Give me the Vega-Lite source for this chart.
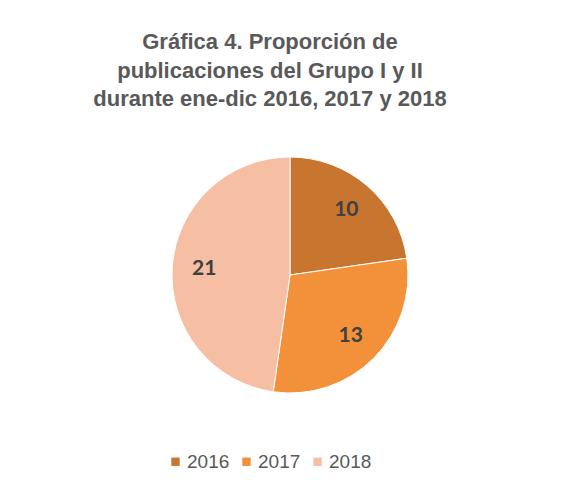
{
  "$schema": "https://vega.github.io/schema/vega-lite/v6.json",
  "autosize": "none",
  "width": 580,
  "height": 310,
  "padding": {"left": 0, "top": 120, "right": 0, "bottom": 56},
  "background": "white",
  "title": {
    "text": ["Gráfica 4. Proporción de", "publicaciones del Grupo I y II", "durante ene-dic 2016, 2017 y 2018"],
    "anchor": "middle",
    "dx": -20,
    "offset": -8,
    "baseline": "alphabetic",
    "font": "Liberation Sans",
    "fontSize": 22,
    "fontWeight": "bold",
    "color": "#595959",
    "lineHeight": 28.5
  },
  "data": {
    "values": [
      {"year": "2016", "value": 10},
      {"year": "2017", "value": 13},
      {"year": "2018", "value": 21}
    ]
  },
  "encoding": {
    "theta": {"field": "value", "type": "quantitative", "stack": true},
    "order": {"field": "year", "type": "ordinal"},
    "color": {
      "field": "year",
      "type": "nominal",
      "scale": {"domain": ["2016", "2017", "2018"], "range": ["#C8762F", "#F2913A", "#F6BEA2"]},
      "legend": {
        "title": null,
        "orient": "none",
        "direction": "horizontal",
        "legendX": 166,
        "legendY": 332,
        "symbolType": "square",
        "symbolSize": 70,
        "symbolStrokeWidth": 0,
        "labelFont": "Liberation Sans",
        "labelFontSize": 19,
        "labelColor": "#595959",
        "labelOffset": 2,
        "columnPadding": 7
      }
    }
  },
  "layer": [
    {
      "mark": {"type": "arc", "outerRadius": 118, "stroke": "white", "strokeWidth": 1}
    },
    {
      "mark": {"type": "text", "radius": 86, "font": "Lato", "fontSize": 21, "fontWeight": "bold", "color": "#404040"},
      "encoding": {
        "text": {"field": "value", "type": "quantitative"},
        "color": {"value": "#404040"}
      }
    }
  ],
  "config": {"view": {"stroke": null}}
}
